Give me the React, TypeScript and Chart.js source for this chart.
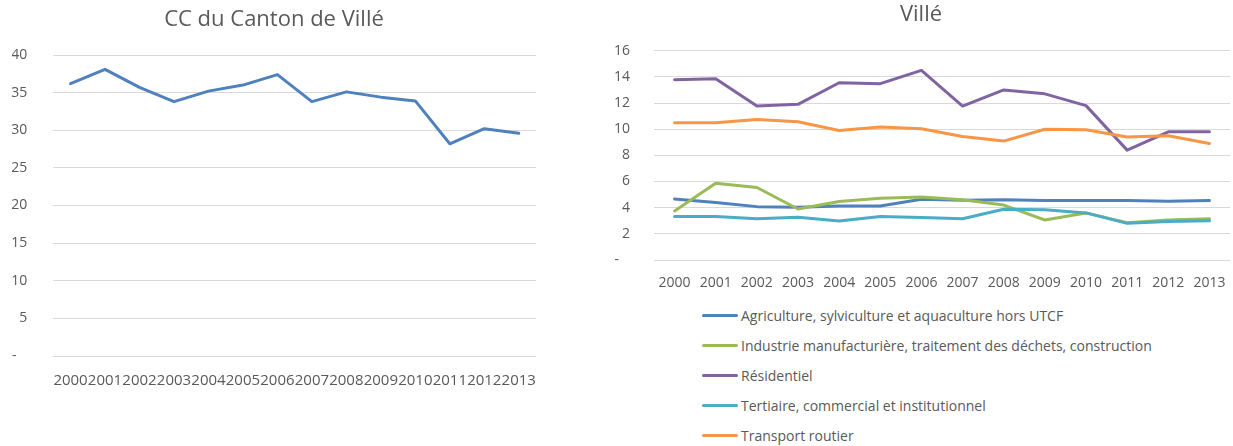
import React, { useEffect, useRef } from 'react';
import { Chart, registerables } from 'chart.js';

Chart.register(...registerables);

// ---------- data ----------
const years = ['2000', '2001', '2002', '2003', '2004', '2005', '2006', '2007', '2008', '2009', '2010', '2011', '2012', '2013'];

const cantonValues = [36.2, 38.1, 35.7, 33.8, 35.2, 36.0, 37.4, 33.8, 35.1, 34.4, 33.9, 28.2, 30.2, 29.6];

const agricultureValues = [4.67, 4.39, 4.08, 4.03, 4.13, 4.13, 4.65, 4.57, 4.6, 4.55, 4.55, 4.55, 4.5, 4.55];
const industrieValues = [3.75, 5.87, 5.54, 3.9, 4.47, 4.72, 4.82, 4.6, 4.2, 3.06, 3.6, 2.85, 3.05, 3.15];
const residentielValues = [13.78, 13.86, 11.77, 11.9, 13.55, 13.48, 14.5, 11.77, 13.0, 12.7, 11.8, 8.4, 9.8, 9.8];
const tertiaireValues = [3.32, 3.32, 3.16, 3.27, 2.99, 3.32, 3.24, 3.16, 3.88, 3.85, 3.6, 2.8, 2.95, 3.0];
const transportValues = [10.49, 10.49, 10.74, 10.57, 9.9, 10.16, 10.03, 9.44, 9.09, 10.0, 9.95, 9.4, 9.5, 8.9];

const seriesLabels = [
  'Agriculture, sylviculture et aquaculture hors UTCF',
  'Industrie manufacturière, traitement des déchets, construction',
  'Résidentiel',
  'Tertiaire, commercial et institutionnel',
  'Transport routier',
];
const seriesColors = ['#4F81BD', '#9BBB59', '#8064A2', '#4BACC6', '#F79646'];
const seriesValues = [agricultureValues, industrieValues, residentielValues, tertiaireValues, transportValues];

const leftTitle = 'CC du Canton de Villé';
const rightTitle = 'Villé';
const leftTicks = [0, 5, 10, 15, 20, 25, 30, 35, 40];
const rightTicks = [0, 2, 4, 6, 8, 10, 12, 14, 16];

// ---------- styles ----------
const FONT = "'Open Sans', sans-serif";
const TEXT = '#595959';
const GRID = '#D9D9D9';

const tickLabel = (v: number) => (v === 0 ? '-   ' : String(v));

function lineDataset(label: string, data: number[], color: string, order: number) {
  return {
    label,
    data,
    borderColor: color,
    backgroundColor: color,
    borderWidth: 3,
    pointRadius: 0,
    pointHoverRadius: 0,
    tension: 0,
    fill: false,
    borderCapStyle: 'round' as const,
    borderJoinStyle: 'round' as const,
    order,
  };
}

function makeOptions(opts: {
  title: string;
  pad: { left: number; right: number; top: number; bottom: number };
  titlePad: { top: number; bottom: number };
  yWidth: number;
  xHeight: number;
  yPad: number;
  xPad: number;
  xFont: number;
  max: number;
  step: number;
}) {
  return {
    responsive: false,
    animation: false as const,
    layout: { padding: opts.pad },
    plugins: {
      legend: { display: false },
      tooltip: { enabled: false },
      title: {
        display: true,
        text: opts.title,
        color: TEXT,
        font: { family: FONT, size: 22, weight: 'normal' as const, lineHeight: 1.2 },
        padding: opts.titlePad,
      },
    },
    scales: {
      x: {
        type: 'category' as const,
        offset: true,
        grid: { display: false },
        border: { display: false },
        ticks: {
          color: TEXT,
          font: { family: FONT, size: opts.xFont, lineHeight: 1.2 },
          autoSkip: false,
          maxRotation: 0,
          minRotation: 0,
          padding: opts.xPad,
        },
        afterFit: (s: any) => {
          s.height = opts.xHeight;
        },
      },
      y: {
        min: 0,
        max: opts.max,
        grid: { color: GRID, lineWidth: 1, drawTicks: false },
        border: { display: false },
        ticks: {
          stepSize: opts.step,
          color: TEXT,
          font: { family: FONT, size: 14, lineHeight: 1.2 },
          padding: opts.yPad,
          callback: (v: any) => tickLabel(Number(v)),
        },
        afterFit: (s: any) => {
          s.width = opts.yWidth;
        },
      },
    },
  };
}

function LeftChart() {
  const ref = useRef<HTMLCanvasElement | null>(null);
  useEffect(() => {
    if (!ref.current) return;
    const chart = new Chart(ref.current, {
      type: 'line',
      data: {
        labels: years,
        datasets: [lineDataset(leftTitle, cantonValues, '#4F81BD', 0)],
      },
      options: makeOptions({
        title: leftTitle,
        pad: { left: 12, right: 12, top: 0, bottom: 0 },
        titlePad: { top: 6.8, bottom: 21.8 },
        yWidth: 41.3,
        xHeight: 44,
        yPad: 26,
        xPad: 7.5,
        xFont: 15,
        max: leftTicks[leftTicks.length - 1],
        step: leftTicks[1] - leftTicks[0],
      }) as any,
    });
    return () => chart.destroy();
  }, []);
  return <canvas ref={ref} width={548} height={400} style={{ position: 'absolute', left: 0, top: 0, display: 'block' }} />;
}

function RightChart() {
  const ref = useRef<HTMLCanvasElement | null>(null);
  useEffect(() => {
    if (!ref.current) return;
    const chart = new Chart(ref.current, {
      type: 'line',
      data: {
        labels: years,
        datasets: seriesLabels.map((l, i) => lineDataset(l, seriesValues[i], seriesColors[i], seriesLabels.length - i)),
      },
      options: makeOptions({
        title: rightTitle,
        pad: { left: 12, right: 3, top: 0, bottom: 10 },
        titlePad: { top: 2, bottom: 22.3 },
        yWidth: 42,
        xHeight: 30,
        yPad: 24,
        xPad: 6.5,
        xFont: 14,
        max: rightTicks[rightTicks.length - 1],
        step: rightTicks[1] - rightTicks[0],
      }) as any,
    });
    return () => chart.destroy();
  }, []);
  return <canvas ref={ref} width={633} height={300} style={{ position: 'absolute', left: 600, top: 0, display: 'block' }} />;
}

function Legend() {
  return (
    <div style={{ position: 'absolute', left: 702, top: 300, fontFamily: FONT, fontSize: 14, color: TEXT }}>
      {seriesLabels.map((l, i) => (
        <div key={l} style={{ display: 'flex', alignItems: 'center', height: 30, whiteSpace: 'nowrap' }}>
          <span style={{ display: 'inline-block', width: 36, height: 3, borderRadius: 2, background: seriesColors[i], marginRight: 3 }} />
          <span>{l}</span>
        </div>
      ))}
    </div>
  );
}

export default function App() {
  return (
    <div style={{ position: 'absolute', left: 0, top: 0, width: 1233, height: 446, background: '#fff', overflow: 'hidden' }}>
      <LeftChart />
      <RightChart />
      <Legend />
    </div>
  );
}
